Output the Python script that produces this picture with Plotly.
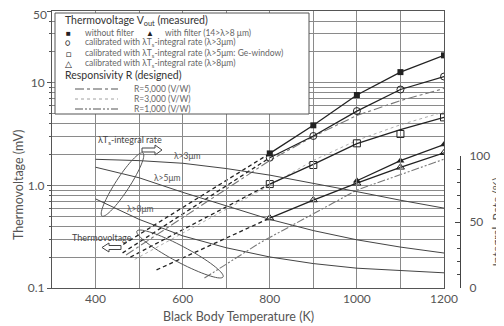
import math
import plotly.graph_objects as go

# ---------------- data ----------------
T_meas = [800, 900, 1000, 1100, 1200]
v_nofilter = [2.05, 3.85, 7.6, 12.7, 18.5]
v_cal3 = [1.86, 3.03, 5.3, 8.6, 11.5]
v_cal5 = [1.03, 1.58, 2.57, 3.17, 4.6]
v_cal5_line = [1.03, 1.6, 2.55, 3.5, 4.6]
v_cal8 = [0.48, 0.72, 1.05, 1.5, 2.08]
T_filter = [1000, 1100, 1200]
v_filter = [1.11, 1.74, 2.5]

# dashed extrapolations below 800 K
T_ext_nofilter = [450, 800]
v_ext_nofilter = [0.245, 2.05]
T_ext_cal3 = [462, 800]
v_ext_cal3 = [0.22, 1.86]
T_ext_cal5 = [480, 800]
v_ext_cal5 = [0.2, 1.03]
T_ext_cal8 = [540, 800]
v_ext_cal8 = [0.15, 0.48]

# designed responsivity lines
T_r5000 = [470, 800, 900, 1000, 1100, 1200]
v_r5000 = [0.21, 1.75, 3.0, 4.8, 6.7, 8.8]
T_r3000 = [490, 800, 900, 1000, 1100, 1200]
v_r3000 = [0.19, 1.0, 1.75, 2.75, 3.9, 5.2]
T_r1000 = [650, 777, 1000, 1129, 1200]
v_r1000 = [0.125, 0.275, 0.9, 1.41, 1.8]

# integral rate curves (right axis, %)
T_rate = [400, 500, 600, 700, 800, 900, 1000, 1100, 1200]
rate_3um = [97.5, 96.5, 94.5, 90.5, 85.5, 79.5, 73, 66.5, 60.5]
rate_5um = [91.5, 83.5, 72.5, 62, 52, 43.5, 36.5, 31, 26.5]
rate_8um = [67.5, 52, 39.5, 30.5, 23.5, 18.5, 15, 13, 11.5]

x_tickvals = [300, 400, 500, 600, 700, 800, 900, 1000, 1100, 1200]
x_ticktext = ["", "400", "", "600", "", "800", "", "1000", "", "1200"]
y_tickvals = [0.1, 1, 10, 50]
y_ticktext = ["0.1", "1.0", "10", ""]
y_top_label = "50"
y_minor = [0.2, 0.3, 0.4, 0.5, 0.6, 0.7, 0.8, 0.9, 2, 3, 4, 5, 6, 7, 8, 9, 20, 30, 40]
y2_tickvals = [0, 50, 100]
y2_minor = [10, 20, 30, 40, 60, 70, 80, 90]

# ---------------- layout geometry ----------------
# the page body has an 8 px margin, so the figure is drawn 8 px in from the window edge
OFF = 8
W, H = 504 - OFF, 326 - OFF
L, R, TOP, BOT = 52 - OFF, 44, 11 - OFF, 38
PW = W - L - R
PH = H - TOP - BOT
PLOT_RIGHT = 444
FONT = "Lato"


def px(xp):
    """reference-window pixel x -> paper fraction"""
    return (xp - OFF - L) / PW


def py(yp):
    """reference-window pixel y -> paper fraction"""
    return (H - BOT - (yp - OFF)) / PH


BLACK = "#222222"
GRAY = "#777777"

fig = go.Figure()

# integral rate curves (own subplot on the lower part, right axis 0-100 %)
for rr in (rate_3um, rate_5um, rate_8um):
    fig.add_trace(go.Scatter(x=T_rate, y=rr, xaxis="x", yaxis="y2", mode="lines",
                             line=dict(color="#444444", width=1), showlegend=False))

# responsivity lines
fig.add_trace(go.Scatter(x=T_r5000, y=v_r5000, mode="lines",
                         line=dict(color=GRAY, width=1.1, dash="dashdot"), showlegend=False))
fig.add_trace(go.Scatter(x=T_r3000, y=v_r3000, mode="lines",
                         line=dict(color="#999999", width=0.8, dash="dot"), showlegend=False))
fig.add_trace(go.Scatter(x=T_r1000, y=v_r1000, mode="lines",
                         line=dict(color=GRAY, width=1.1, dash="8px,2px,2px,2px,2px,2px"),
                         showlegend=False))

# dashed extensions
for tx, vx in ((T_ext_nofilter, v_ext_nofilter), (T_ext_cal3, v_ext_cal3),
               (T_ext_cal5, v_ext_cal5), (T_ext_cal8, v_ext_cal8)):
    fig.add_trace(go.Scatter(x=tx, y=vx, mode="lines",
                             line=dict(color=BLACK, width=1.3, dash="4px,3px"), showlegend=False))

# solid measured lines
fig.add_trace(go.Scatter(x=T_meas, y=v_nofilter, mode="lines+markers",
                         line=dict(color=BLACK, width=1.3),
                         marker=dict(symbol="square", size=6, color=BLACK), showlegend=False))
fig.add_trace(go.Scatter(x=T_meas, y=v_cal3, mode="lines+markers",
                         line=dict(color=BLACK, width=1.3),
                         marker=dict(symbol="circle-open", size=7, color=BLACK, line=dict(width=1)),
                         showlegend=False))
fig.add_trace(go.Scatter(x=T_meas, y=v_cal5_line, mode="lines",
                         line=dict(color=BLACK, width=1.3), showlegend=False))
fig.add_trace(go.Scatter(x=T_meas, y=v_cal5, mode="markers",
                         marker=dict(symbol="square-open", size=7, color=BLACK, line=dict(width=1)),
                         showlegend=False))
fig.add_trace(go.Scatter(x=T_meas, y=v_cal8, mode="lines+markers",
                         line=dict(color=BLACK, width=1.3),
                         marker=dict(symbol="triangle-up-open", size=7, color=BLACK, line=dict(width=1)),
                         showlegend=False))
fig.add_trace(go.Scatter(x=T_filter, y=v_filter, mode="lines+markers",
                         line=dict(color=BLACK, width=1.3),
                         marker=dict(symbol="triangle-up", size=7, color=BLACK), showlegend=False))

Y2_TOP = (288 - 156) / PH  # 100 % sits at window y = 156

fig.update_layout(
    width=W, height=H,
    margin=dict(l=L, r=R, t=TOP, b=BOT, autoexpand=False),
    paper_bgcolor="white", plot_bgcolor="rgba(0,0,0,0)",
    font=dict(family=FONT, size=12, color="#555555"),
    xaxis=dict(domain=[0, (PLOT_RIGHT - OFF - L) / PW], range=[300, 1200], automargin=False,
               anchor="y",
               tickmode="array", tickvals=x_tickvals, ticktext=x_ticktext,
               showgrid=True, gridcolor="#8a8a8a", gridwidth=1,
               showline=True, linecolor="#555555", linewidth=1, mirror=True,
               ticks="", zeroline=False, tickfont=dict(size=12, color="#555555")),
    yaxis=dict(type="log", range=[-1, math.log10(50) + 0.0005], automargin=False,
               domain=[0, 1],
               tickmode="array", tickvals=y_tickvals, ticktext=y_ticktext,
               ticklabeloverflow="allow",
               showgrid=True, gridcolor="#8a8a8a", gridwidth=1,
               ticks="outside", ticklen=4, tickcolor="#555555",
               minor=dict(tickmode="array", tickvals=y_minor, showgrid=True,
                          gridcolor="#8a8a8a", gridwidth=1, ticks="outside", ticklen=2,
                          tickcolor="#555555"),
               showline=True, linecolor="#555555", linewidth=1, mirror=True,
               zeroline=False, tickfont=dict(size=12, color="#555555")),
    yaxis2=dict(domain=[0, Y2_TOP], side="right", anchor="free", position=1.0, automargin=False,
                range=[0, 100], tickmode="array", tickvals=y2_tickvals,
                showgrid=False, showline=True, linecolor="#444444", linewidth=1,
                zeroline=False, ticklabeloverflow="allow",
                ticks="inside", ticklen=5, tickcolor="#444444",
                minor=dict(tickmode="array", tickvals=y2_minor, ticks="inside",
                           ticklen=3, tickcolor="#444444", showgrid=False),
                ticklabelstandoff=6,
                title=dict(text="Integral  Rate (%)", standoff=4,
                           font=dict(family=FONT, size=12, color="#555555")),
                tickfont=dict(size=12, color="#555555")),
)

shapes = []
# legend box
shapes.append(dict(type="rect", xref="paper", yref="paper", x0=px(55), x1=px(309),
                   y0=py(114), y1=py(13), fillcolor="white",
                   line=dict(color="#555555", width=1), layer="above"))


def ellipse(cx, cy, a, b, ang, n=72):
    th = math.radians(ang)
    pts = []
    for i in range(n):
        t = 2 * math.pi * i / n
        xx = cx + a * math.cos(t) * math.cos(th) - b * math.sin(t) * math.sin(th)
        yy = cy + a * math.cos(t) * math.sin(th) + b * math.sin(t) * math.cos(th)
        pts.append((px(xx), py(yy)))
    return "M " + " L ".join(f"{p[0]:.4f},{p[1]:.4f}" for p in pts) + " Z"


def poly(points):
    return "M " + " L ".join(f"{px(a):.4f},{py(b):.4f}" for a, b in points) + " Z"


shapes.append(dict(type="path", xref="paper", yref="paper", path=ellipse(122.5, 184.5, 37.6, 7, -57),
                   line=dict(color="#555555", width=1)))
shapes.append(dict(type="path", xref="paper", yref="paper", path=ellipse(180, 254, 48.8, 8, 28),
                   line=dict(color="#555555", width=1)))
# arrows
shapes.append(dict(type="path", xref="paper", yref="paper",
                   path=poly([(142, 148), (155, 148), (155, 145), (162, 150), (155, 155), (155, 152), (142, 152)]),
                   fillcolor="white", line=dict(color="#444444", width=1)))
shapes.append(dict(type="path", xref="paper", yref="paper",
                   path=poly([(121, 245.5), (109, 245.5), (109, 243), (102, 247.5), (109, 252), (109, 249.5), (121, 249.5)]),
                   fillcolor="white", line=dict(color="#444444", width=1)))
# legend line samples
shapes.append(dict(type="line", xref="paper", yref="paper", x0=px(75), x1=px(118), y0=py(89), y1=py(89),
                   line=dict(color="#555555", width=1.1, dash="dashdot"), layer="above"))
shapes.append(dict(type="line", xref="paper", yref="paper", x0=px(75), x1=px(118), y0=py(99), y1=py(99),
                   line=dict(color="#888888", width=0.8, dash="dot"), layer="above"))
shapes.append(dict(type="line", xref="paper", yref="paper", x0=px(75), x1=px(118), y0=py(109), y1=py(109),
                   line=dict(color="#555555", width=1.1, dash="8px,2px,2px,2px,2px,2px"), layer="above"))
fig.update_layout(shapes=shapes)


def ann(xp, yp, text, size=8.5, color="#666666", xanchor="left", angle=0):
    fig.add_annotation(x=px(xp), y=py(yp), xref="paper", yref="paper", text=text,
                       showarrow=False, xanchor=xanchor, yanchor="middle", textangle=angle,
                       font=dict(family=FONT, size=size, color=color))


# top tick label of the left axis (kept inside the page)
ann(49, 14, y_top_label, size=12, color="#555555", xanchor="right")

# legend texts
ann(63, 21, "Thermovoltage V<sub>out</sub> (measured)", size=10.5, color="#333333")
ann(68, 33, "■", size=8, color="#222222", xanchor="center")
ann(83, 33, "without filter")
ann(150, 33, "▲", size=8, color="#222222", xanchor="center")
ann(163, 33, "with filter (14&gt;λ&gt;8 μm)")
ann(68, 43, "○", size=9, color="#222222", xanchor="center")
ann(83, 43, "calibrated with λT<sub>s</sub>-integral rate (λ&gt;3μm)")
ann(68, 53, "□", size=9, color="#222222", xanchor="center")
ann(83, 53, "calibrated with λT<sub>s</sub>-integral rate (λ&gt;5μm: Ge-window)")
ann(68, 63, "△", size=9, color="#222222", xanchor="center")
ann(83, 63, "calibrated with λT<sub>s</sub>-integral rate (λ&gt;8μm)")
ann(63, 75, "Responsivity R (designed)", size=10.5, color="#333333")
ann(132, 89, "R=5,000 (V/W)")
ann(132, 99, "R=3,000 (V/W)")
ann(132, 109, "R=1,000 (V/W)")

# in-plot labels
ann(96, 140, "λT<sub>s</sub>-integral rate", size=9, color="#444444")
ann(172, 156, "λ&gt;3μm", size=8.5, color="#555555")
ann(152, 178, "λ&gt;5μm", size=8.5, color="#555555")
ann(125, 209, "λ&gt;8μm", size=8.5, color="#555555")
ann(70, 237, "Thermovoltage", size=9, color="#444444")

# axis titles
ann(238, 316, "Black Body Temperature (K)", size=12.5, color="#555555", xanchor="center")
ann(18, 185, "Thermovoltage (mV)", size=12.5, color="#555555", xanchor="center", angle=-90)

fig.write_html("out.html")
